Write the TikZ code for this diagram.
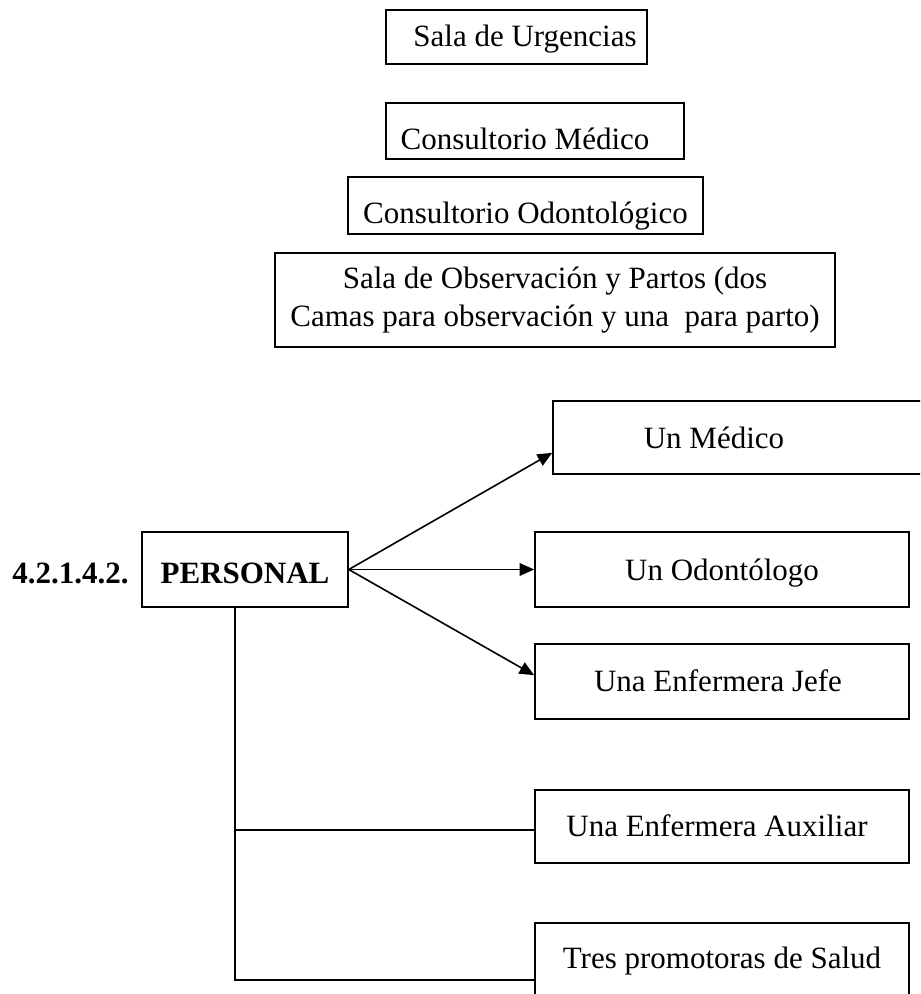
\documentclass[tikz,border=0pt]{standalone}
\usepackage{fontspec}
\setmainfont{Liberation Serif}
\usetikzlibrary{arrows.meta,calc}
\begin{document}
\begin{tikzpicture}[x=0.75pt,y=-0.75pt,
  every node/.style={font=\fontsize{23.25}{28.7}\selectfont},
  box/.style={draw, line width=1.2pt, inner sep=0pt, rectangle, text depth=0pt},
  link/.style={line width=1.2pt},
  arr/.style={line width=1.2pt,-{Triangle[length=11pt,width=9.5pt]}}]
\useasboundingbox (0,0) rectangle (920,994);
\clip (0,0) rectangle (920,994);
% top boxes
\node[box, minimum width=195.75pt, minimum height=40.5pt, text height=14.25pt] (urg) at (516.5,37) {\hspace*{12.75pt}Sala de Urgencias};
\node[box, minimum width=223.5pt, minimum height=42pt, text height=28.5pt] (cmed) at (535,131) {Consultorio Médico\hspace*{15pt}};
\node[box, minimum width=266.25pt, minimum height=42.75pt, text height=26.7pt] (codo) at (525.5,205.5) {Consultorio Odontológico};
\node[draw, line width=1.2pt, inner sep=0pt, minimum width=420pt, minimum height=70.5pt, align=center] (obs) at (555,300) {Sala de Observación y Partos (dos\\Camas para observación y una~~para parto)};
% personal
\node[font=\bfseries\fontsize{23.25}{28}\selectfont, anchor=base west, inner sep=0pt] (num) at (12,583.3) {4.2.1.4.2.};
\node[box, font=\bfseries\fontsize{23.25}{28}\selectfont, minimum width=154.5pt, minimum height=56.25pt, text height=20.7pt] (pers) at (245,569.5) {PERSONAL};
% right boxes
\node[box, overlay, minimum width=279pt, minimum height=54.75pt, text height=15.75pt] (med) at (739,437.5) {Un Médico\hspace*{37.5pt}};
\node[box, minimum width=280.5pt, minimum height=56.25pt, text height=15.75pt] (odo) at (722,569.5) {Un Odontólogo};
\node[box, minimum width=280.5pt, minimum height=56.25pt, text height=15.3pt] (jefe) at (722,681.5) {Una Enfermera Jefe\hspace*{6pt}};
\node[box, minimum width=280.5pt, minimum height=54.75pt, text height=15.3pt] (aux) at (722,826.5) {Una Enfermera Auxiliar\hspace*{7.5pt}};
\node[box, overlay, minimum width=280.5pt, minimum height=56.25pt, text height=11.7pt] (tres) at (722,960.5) {Tres promotoras de Salud};
% connectors
\draw[arr] (pers.east) -- ($(med.south west)+(0,-22)$);
\draw[arr] (pers.east) -- (odo.west);
\draw[arr] (pers.east) -- ($(jefe.north west)+(0,32)$);
\coordinate (vb) at ($(pers.south west)+(94,0)$);
\draw[link] (vb) |- ($(aux.north west)+(0,41)$);
\draw[link] (vb) |- ($(tres.north west)+(0,58)$);
\end{tikzpicture}
\end{document}
